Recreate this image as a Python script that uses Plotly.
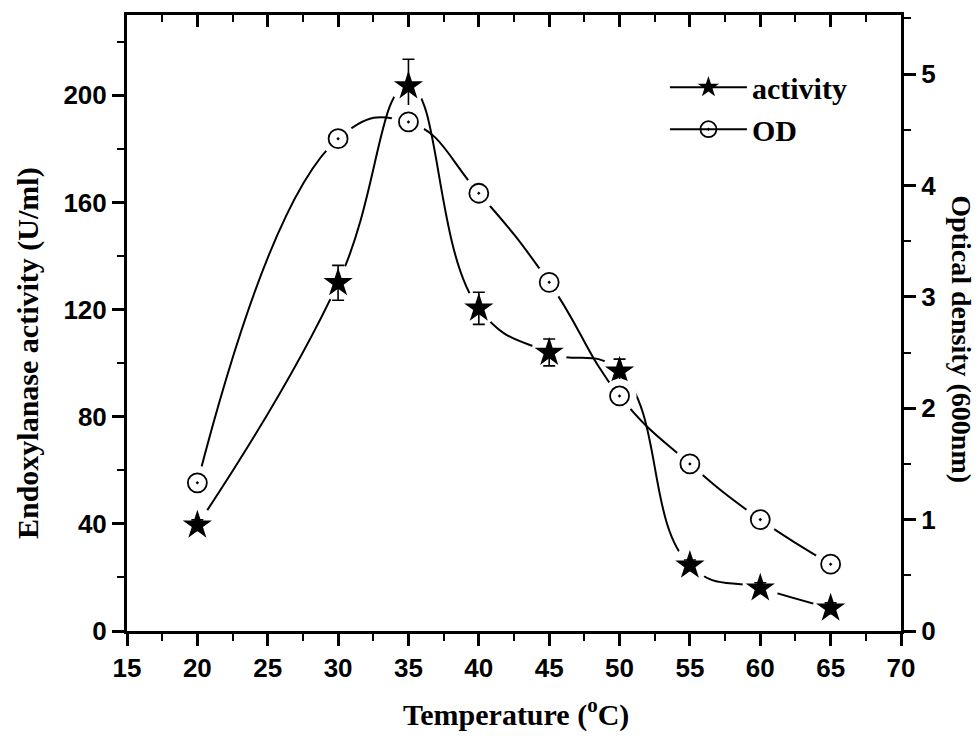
import plotly.graph_objects as go

# ---- data ----
temperature = [20, 30, 35, 40, 45, 50, 55, 60, 65]
activity = [39.5, 130, 203.5, 120.5, 104, 97, 24.5, 16, 8.5]
activity_err = [2, 6.5, 10, 6, 5, 4.5, 2, 2, 2]
optical_density = [1.33, 4.42, 4.57, 3.93, 3.13, 2.11, 1.5, 1.0, 0.6]

x_range = [15, 70]
y_left_range = [0, 230]
y_right_range = [0, 5.53]

BLACK = "#000000"
SERIF = "Liberation Serif, Times New Roman, serif"
tick_font = dict(family="Liberation Sans, Arial, sans-serif", size=26, color=BLACK, weight="bold")
title_font = dict(family=SERIF, size=30, color=BLACK, weight="bold")

fig = go.Figure()

# smooth lines
fig.add_trace(go.Scatter(x=temperature, y=activity, mode="lines",
                         line=dict(color=BLACK, width=2, shape="spline", smoothing=1.3),
                         showlegend=False, hoverinfo="skip"))
fig.add_trace(go.Scatter(x=temperature, y=optical_density, mode="lines", yaxis="y2",
                         line=dict(color=BLACK, width=2, shape="spline", smoothing=1.3),
                         showlegend=False, hoverinfo="skip"))

# white masks to create gaps around markers
fig.add_trace(go.Scatter(x=temperature, y=activity, mode="markers",
                         marker=dict(symbol="circle", size=36, color="white", line=dict(width=0)),
                         showlegend=False, hoverinfo="skip"))
fig.add_trace(go.Scatter(x=temperature, y=optical_density, mode="markers", yaxis="y2",
                         marker=dict(symbol="circle", size=34, color="white", line=dict(width=0)),
                         showlegend=False, hoverinfo="skip"))

# markers
fig.add_trace(go.Scatter(x=temperature, y=activity, mode="markers", name="activity",
                         marker=dict(symbol="star", size=22, color=BLACK, line=dict(width=0)),
                         error_y=dict(type="data", array=activity_err, visible=True,
                                      color=BLACK, thickness=1.6, width=6),
                         showlegend=False))
fig.add_trace(go.Scatter(x=temperature, y=optical_density, mode="markers", name="OD", yaxis="y2",
                         marker=dict(symbol="circle-open-dot", size=19, color=BLACK,
                                     line=dict(width=1.8, color=BLACK)),
                         showlegend=False))

# legend entries
fig.add_trace(go.Scatter(x=[None], y=[None], mode="lines+markers", name="activity",
                         line=dict(color=BLACK, width=2),
                         marker=dict(symbol="star", size=22, color=BLACK)))
fig.add_trace(go.Scatter(x=[None], y=[None], mode="lines+markers", name="OD", yaxis="y2",
                         line=dict(color=BLACK, width=2),
                         marker=dict(symbol="circle-open-dot", size=19, color=BLACK,
                                     line=dict(width=1.8, color=BLACK))))

# dummy trace for top axis
fig.add_trace(go.Scatter(x=[None], y=[None], xaxis="x2", showlegend=False, hoverinfo="skip"))

axis_common = dict(showgrid=False, zeroline=False, showline=True, linewidth=3,
                   linecolor=BLACK, tickcolor=BLACK, ticklen=12, tickwidth=2.5,
                   automargin=False)

fig.update_layout(
    width=978, height=742,
    margin=dict(l=127, r=77, t=15, b=111),
    paper_bgcolor="white", plot_bgcolor="white",
    showlegend=True,
    legend=dict(x=0.695, y=0.925, xanchor="left", yanchor="top",
                bgcolor="rgba(0,0,0,0)", borderwidth=0,
                font=dict(family=SERIF, size=30, color=BLACK, weight="bold"),
                tracegroupgap=0, itemwidth=77),
    xaxis=dict(range=x_range, dtick=5, tick0=15, ticks="outside",
               minor=dict(dtick=2.5, ticks="outside", ticklen=7, tickwidth=2, tickcolor=BLACK),
               tickfont=tick_font, **axis_common),
    xaxis2=dict(range=x_range, overlaying="x", side="top", dtick=5, tick0=15, ticks="inside",
                minor=dict(dtick=2.5, ticks="inside", ticklen=7, tickwidth=2, tickcolor=BLACK),
                showticklabels=False, **axis_common),
    yaxis=dict(range=y_left_range, dtick=40, tick0=0, ticks="outside",
               minor=dict(dtick=20, ticks="outside", ticklen=7, tickwidth=2, tickcolor=BLACK),
               tickfont=tick_font, **axis_common),
    yaxis2=dict(range=y_right_range, overlaying="y", side="right", dtick=1, tick0=0,
                ticks="outside",
                minor=dict(dtick=0.5, ticks="outside", ticklen=7, tickwidth=2, tickcolor=BLACK),
                tickfont=tick_font, **axis_common),
    annotations=[
        dict(text="Temperature (<sup>o</sup>C)", showarrow=False,
             xref="paper", yref="paper", x=0.503, y=-0.168,
             xanchor="center", yanchor="bottom", font=title_font),
        dict(text="Endoxylanase activity (U/ml)", textangle=-90, showarrow=False,
             xref="paper", yref="paper", x=-0.1286, y=0.452,
             xanchor="center", yanchor="middle", font=title_font),
        dict(text="Optical density (600nm)", textangle=90, showarrow=False,
             xref="paper", yref="paper", x=1.0785, y=0.474,
             xanchor="center", yanchor="middle",
             font=dict(family=SERIF, size=28, color=BLACK, weight="bold")),
    ],
)

fig.write_html("out.html")
